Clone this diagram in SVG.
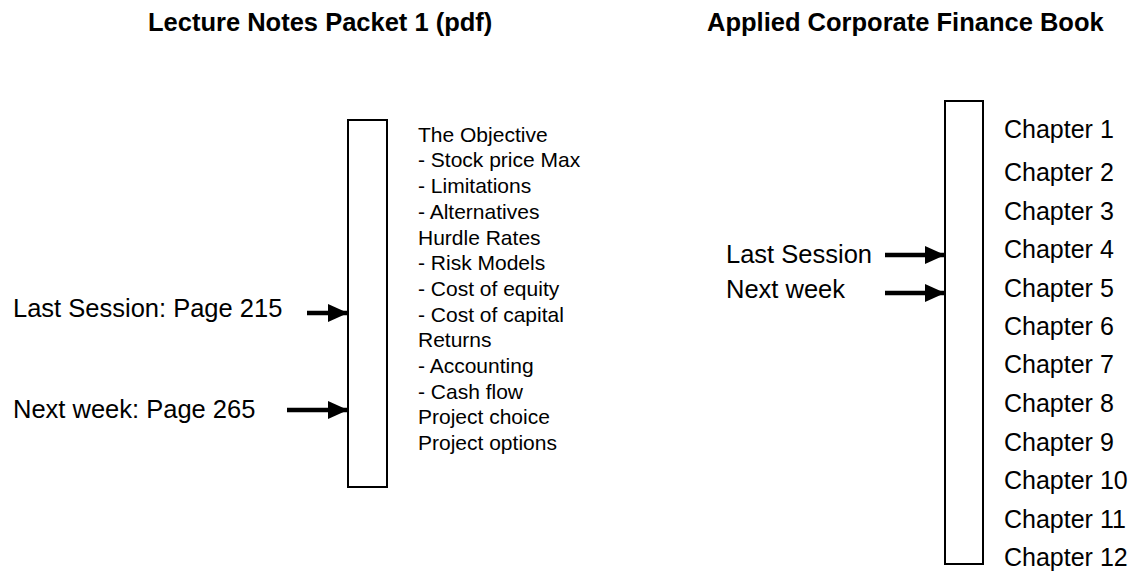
<svg xmlns="http://www.w3.org/2000/svg" width="1135" height="571" viewBox="0 0 1135 571">
<style>
text { font-family: "Liberation Sans", Arial, Helvetica, sans-serif; fill: #000; }
.title { font-size: 25.5px; font-weight: bold; }
.label { font-size: 25.5px; }
.chap { font-size: 25px; }
.item { font-size: 21px; }
.box { fill: #fff; stroke: #000; stroke-width: 2; }
.conn { stroke: #000; stroke-width: 4.5; fill: none; }
</style>
<defs>
<marker id="head" markerUnits="userSpaceOnUse" markerWidth="20" markerHeight="18" refX="20" refY="9" orient="auto">
<path d="M0,0 L20,9 L0,18 Z" fill="#000"/>
</marker>
</defs>
<g id="title-left"><text class="title" x="148" y="31">Lecture Notes Packet 1 (pdf)</text></g>
<g id="title-right"><text class="title" x="707" y="31">Applied Corporate Finance Book</text></g>
<g id="packet-bar"><rect class="box" x="348" y="120" width="39" height="367"/></g>
<g id="packet-contents">
<text class="item" x="418" y="141.7">The Objective</text>
<text class="item" x="418" y="167.4">- Stock price Max</text>
<text class="item" x="418" y="193.1">- Limitations</text>
<text class="item" x="418" y="218.8">- Alternatives</text>
<text class="item" x="418" y="244.5">Hurdle Rates</text>
<text class="item" x="418" y="270.2">- Risk Models</text>
<text class="item" x="418" y="295.9">- Cost of equity</text>
<text class="item" x="418" y="321.6">- Cost of capital</text>
<text class="item" x="418" y="347.3">Returns</text>
<text class="item" x="418" y="373">- Accounting</text>
<text class="item" x="418" y="398.7">- Cash flow</text>
<text class="item" x="418" y="424.4">Project choice</text>
<text class="item" x="418" y="450.1">Project options</text>
</g>
<g id="label-last-left"><text class="label" x="13" y="317">Last Session: Page 215</text></g>
<g id="label-next-left"><text class="label" x="13" y="418">Next week: Page 265</text></g>
<g id="book-bar"><rect class="box" x="945" y="101" width="38" height="463"/></g>
<g id="book-chapters">
<text class="chap" x="1004" y="138">Chapter 1</text>
<text class="chap" x="1004" y="181">Chapter 2</text>
<text class="chap" x="1004" y="220">Chapter 3</text>
<text class="chap" x="1004" y="258">Chapter 4</text>
<text class="chap" x="1004" y="297">Chapter 5</text>
<text class="chap" x="1004" y="335">Chapter 6</text>
<text class="chap" x="1004" y="373">Chapter 7</text>
<text class="chap" x="1004" y="412">Chapter 8</text>
<text class="chap" x="1004" y="451">Chapter 9</text>
<text class="chap" x="1004" y="489">Chapter 10</text>
<text class="chap" x="1004" y="528">Chapter 11</text>
<text class="chap" x="1004" y="566">Chapter 12</text>
</g>
<g id="label-last-right"><text class="label" x="726" y="263">Last Session</text></g>
<g id="label-next-right"><text class="label" x="726" y="298">Next week</text></g>
<g id="connectors">
<line class="conn" x1="307" y1="313" x2="348" y2="313" marker-end="url(#head)"/>
<line class="conn" x1="287" y1="410" x2="348" y2="410" marker-end="url(#head)"/>
<line class="conn" x1="885" y1="255" x2="945" y2="255" marker-end="url(#head)"/>
<line class="conn" x1="885" y1="293" x2="945" y2="293" marker-end="url(#head)"/>
</g>
</svg>
